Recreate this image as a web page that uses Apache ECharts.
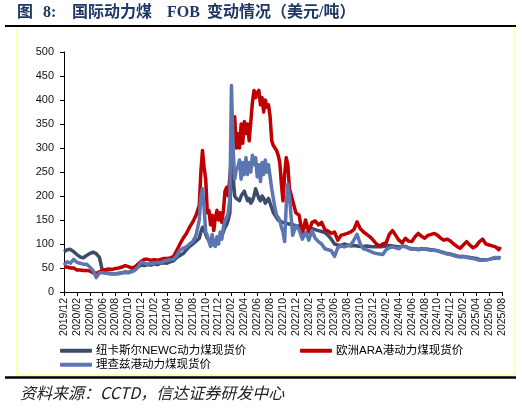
<!DOCTYPE html>
<html>
<head>
<meta charset="utf-8">
<script src="https://cdn.jsdelivr.net/npm/echarts@6/dist/echarts.min.js"></script>
<style>
html,body{margin:0;padding:0;background:#fff;}
#chart{width:522px;height:418px;}
</style>
</head>
<body>
<div id="chart"></div>
<script>
// x positions: months since 2019/12 (fractional)
var monthIdx = [
0,0.5,1,1.5,2,2.5,3,3.5,4,4.5,5,5.5,6,6.5,7,7.5,8,8.5,9,9.5,
10,10.5,11,11.5,12,12.5,13,13.5,14,14.5,15,15.5,16,16.5,17,17.5,18,18.5,19,19.5,
20,20.5,
21,21.25,21.5,21.75,22,22.25,22.5,22.75,23,23.25,23.5,23.75,24,24.25,24.5,24.75,
25,25.25,25.5,25.75,26,26.25,26.5,26.75,27,27.25,27.5,27.75,28,28.25,28.5,28.75,
29,29.25,29.5,29.75,30,30.25,30.5,30.75,31,31.25,31.5,31.75,32,32.25,32.5,32.75,
33,33.25,33.5,33.75,34,34.25,34.5,34.75,35,
35.5,36,36.5,37,37.5,38,38.5,39,39.5,40,
40.5,41,41.5,42,42.5,43,43.5,44,44.5,45,
45.5,46,46.5,47,47.5,48,48.5,49,49.5,50,
50.5,51,51.5,52,52.5,53,53.5,54,54.5,55,
55.5,56,56.5,57,57.5,58,58.5,59,59.5,60,
60.5,61,61.5,62,62.5,63,63.5,64,64.5,65,
65.5,66,66.5,67,67.5,67.75
];

var newcPrice = [
84,88,89,84,78,73,71,76,80,83,
80,72,42,40,39,38,38,39,40,42,
40,44,47,52,56,55,57,56,58,57,
60,61,60,63,65,72,76,80,88,95,
100,106,
112,125,135,130,120,112,108,102,100,98,100,104,110,115,120,125,
135,140,150,165,280,240,200,195,195,190,200,205,210,200,190,195,
185,190,200,215,205,195,190,200,195,185,190,195,185,175,165,160,
155,150,148,146,145,144,143,142,140,
140,138,137,136,135,133,132,130,128,126,
124,118,110,100,98,97,100,98,96,97,
96,95,95,96,95,94,95,94,95,96,
97,96,95,94,95,95,92,90,90,89,
90,90,89,88,87,86,84,82,80,79,
77,75,74,74,73,72,71,70,68,67,
67,68,70,71,72,70
];

var araPrice = [
52,52,50,50,46,46,45,45,44,40,
39,42,45,47,48,47,49,50,52,55,
53,50,52,58,64,68,68,66,67,66,
68,70,70,71,74,86,100,112,122,135,
146,160,
180,250,295,260,235,165,170,140,160,128,155,170,150,165,145,170,
210,218,200,240,280,335,365,300,330,300,350,310,355,330,350,315,
355,395,420,405,415,420,390,405,375,400,385,390,365,315,305,300,
295,285,270,225,190,245,280,265,215,
190,165,160,122,150,125,145,148,140,145,
130,127,122,125,108,118,120,122,125,130,
146,132,125,120,115,108,100,96,100,102,
120,128,118,108,102,112,106,105,115,122,
116,112,118,120,122,118,112,108,110,106,
100,95,91,98,105,98,92,96,105,110,
100,98,96,94,88,94
];

var rbPrice = [
56,63,60,68,62,60,58,58,52,45,
30,40,40,39,38,38,38,38,40,40,
41,42,45,52,62,60,58,60,59,62,
61,64,66,67,68,76,87,91,94,100,
105,118,
150,200,215,175,125,118,105,95,120,100,95,115,100,125,110,135,
150,155,165,195,430,300,235,255,260,275,235,270,245,280,245,270,
250,285,265,280,240,265,230,270,245,275,250,265,240,215,195,175,
160,155,150,135,125,105,180,225,200,
118,138,130,110,125,108,128,112,105,100,
90,88,86,74,92,96,94,96,98,108,
120,100,90,88,85,82,80,79,78,88,
92,94,92,90,96,95,91,89,90,88,
89,90,88,87,87,86,83,81,79,78,
76,74,73,74,72,71,70,68,66,66,
67,68,70,72,71,69
];

var tickLabels = [
'2019/12','2020/02','2020/04','2020/06','2020/08','2020/10','2020/12',
'2021/02','2021/04','2021/06','2021/08','2021/10','2021/12',
'2022/02','2022/04','2022/06','2022/08','2022/10','2022/12',
'2023/02','2023/04','2023/06','2023/08','2023/10','2023/12',
'2024/02','2024/04','2024/06','2024/08','2024/10','2024/12',
'2025/02','2025/04','2025/06','2025/08'
];

var seriesNames = ['纽卡斯尔NEWC动力煤现货价','欧洲ARA港动力煤现货价','理查兹港动力煤现货价'];
var seriesColors = ['#3e4b6b','#c00000','#5b76b0'];

function pairs(vals){ return monthIdx.map(function(t,i){ return [t, vals[i]]; }); }

var chart = echarts.init(document.getElementById('chart'), null, {renderer:'canvas'});
var labelFont = "'Liberation Sans', Arial, 'Noto Sans CJK SC', sans-serif";
var titleFont = "bold 16px 'Liberation Serif', 'Noto Sans CJK SC'";
var legendCommon = {
  orient:'horizontal', padding:0, itemWidth:32, itemHeight:4, icon:'roundRect',
  selectedMode:false, itemGap:10,
  textStyle:{fontSize:11.5, color:'#000', fontFamily:labelFont, padding:[0,0,0,-1]}
};
var option = {
  animation:false,
  backgroundColor:'#ffffff',
  grid:{left:64, right:20, top:52, bottom:126, containLabel:false},
  legend:[
    Object.assign({}, legendCommon, {left:60, top:345, data:[seriesNames[0]]}),
    Object.assign({}, legendCommon, {left:300, top:345, data:[seriesNames[1]]}),
    Object.assign({}, legendCommon, {left:60, top:359, data:[seriesNames[2]]})
  ],
  xAxis:{
    type:'value', min:0, max:68, interval:2,
    axisLine:{show:true, lineStyle:{color:'#000', width:1}},
    axisTick:{show:true, length:4, lineStyle:{color:'#000'}},
    splitLine:{show:false},
    axisLabel:{rotate:90, fontSize:10.5, color:'#111', margin:6, fontFamily:labelFont,
      showMinLabel:true, showMaxLabel:true,
      formatter:function(v){ return tickLabels[Math.round(v/2)] || ''; }}
  },
  yAxis:{
    type:'value', min:0, max:500, interval:50,
    axisLine:{show:true, lineStyle:{color:'#000', width:1}},
    axisTick:{show:true, length:4, lineStyle:{color:'#000'}},
    splitLine:{show:false},
    axisLabel:{fontSize:11, color:'#111', margin:10, fontFamily:labelFont}
  },
  series:[
    {name:seriesNames[0], type:'line', data:pairs(newcPrice), showSymbol:false, symbol:'none',
     lineStyle:{width:3.5, color:seriesColors[0], join:'round'}, itemStyle:{color:seriesColors[0]}},
    {name:seriesNames[1], type:'line', data:pairs(araPrice), showSymbol:false, symbol:'none',
     lineStyle:{width:3.5, color:seriesColors[1], join:'round'}, itemStyle:{color:seriesColors[1]}},
    {name:seriesNames[2], type:'line', data:pairs(rbPrice), showSymbol:false, symbol:'none',
     lineStyle:{width:3.5, color:seriesColors[2], join:'round'}, itemStyle:{color:seriesColors[2]}}
  ],
  graphic:[
    {type:'text', left:17, top:5, style:{text:'图', font:titleFont, fill:'#1f3864'}},
    {type:'text', left:43, top:5, style:{text:'8:', font:titleFont, fill:'#1f3864'}},
    {type:'text', left:72, top:5, style:{text:'国际动力煤', font:titleFont, fill:'#1f3864'}},
    {type:'text', left:167, top:5, style:{text:'FOB', font:titleFont, fill:'#1f3864'}},
    {type:'text', left:207, top:5, style:{text:'变动情况（美元/吨）', font:titleFont, fill:'#1f3864'}},
    {type:'line', shape:{x1:5, y1:26, x2:516, y2:26}, style:{stroke:'#000', lineWidth:2}},
    {type:'line', shape:{x1:17, y1:27, x2:17, y2:375}, style:{stroke:'#ffff66', lineWidth:1}},
    {type:'line', shape:{x1:515, y1:27, x2:515, y2:375}, style:{stroke:'#ffff66', lineWidth:1}},
    {type:'line', shape:{x1:17, y1:375, x2:515, y2:375}, style:{stroke:'#ffff66', lineWidth:1}},
    {type:'line', shape:{x1:5, y1:377.5, x2:516, y2:377.5}, style:{stroke:'#000', lineWidth:2.5}},
    {type:'text', left:20, top:385, style:{text:'资料来源：CCTD，信达证券研发中心', font:"italic 16px 'Noto Sans CJK SC'", fill:'#222'}}
  ]
};
chart.setOption(option);
</script>
</body>
</html>
